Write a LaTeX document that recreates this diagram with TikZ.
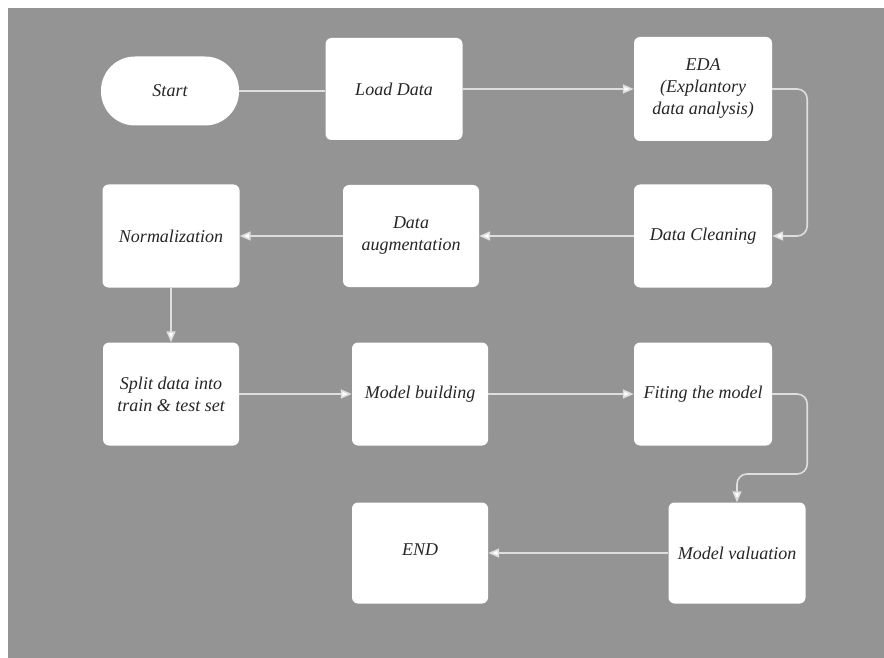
\documentclass[tikz,border=0pt]{standalone}
\usepackage{fontspec}
\setmainfont{Liberation Serif}
\usetikzlibrary{arrows.meta}
\definecolor{canvas}{RGB}{148,148,148}
\definecolor{wire}{RGB}{222,222,222}
\tikzset{
  stepbox/.style={rectangle, rounded corners=6pt, fill=white, draw=none,
    inner sep=0pt, align=center, text=black!85,
    font=\itshape\fontsize{18}{22}\selectfont},
  terminal/.style={stepbox, rounded corners=34pt},
  link/.style={draw=wire, line width=1.6pt},
  flow/.style={link, -{Triangle[length=11pt,width=9pt,fill=white]}},
}
\begin{document}
\begin{tikzpicture}[x=1pt,y=-1pt]
  \useasboundingbox (0,0) rectangle (884,658);
  \fill[white] (0,0) rectangle (884,658);
  \fill[canvas] (8,8) rectangle (884,658);

  % first row
  \node[terminal, minimum width=138pt, minimum height=69pt] (start) at (170,91) {Start};
  \node[stepbox, minimum width=137pt, minimum height=102pt] (load) at (394,89) {Load Data};
  \node[stepbox, minimum width=138pt, minimum height=104pt] (eda) at (703,89) {EDA\\(Explantory\\data analysis)};

  % second row
  \node[stepbox, minimum width=138pt, minimum height=103pt] (clean) at (703,236) {Data Cleaning};
  \node[stepbox, minimum width=136pt, minimum height=102pt] (aug) at (411,236) {Data\\augmentation};
  \node[stepbox, minimum width=137pt, minimum height=103pt] (norm) at (171,236) {Normalization};

  % third row
  \node[stepbox, minimum width=136pt, minimum height=103pt] (split) at (171,394) {Split data into\\train \& test set};
  \node[stepbox, minimum width=136pt, minimum height=103pt] (build) at (420,394) {Model building};
  \node[stepbox, minimum width=138pt, minimum height=103pt] (fit) at (703,394) {Fiting the model};

  % last row
  \node[stepbox, minimum width=137pt, minimum height=101pt] (val) at (737,553) {Model valuation};
  \node[stepbox, minimum width=136pt, minimum height=101pt] (end) at (420,553) {\raisebox{7pt}{END}};

  \coordinate (fitturn) at (737,474);

  % connectors
  \draw[link] (start.east) -- (start.east -| load.west);
  \draw[flow] (load.east) -- (eda.west);
  \draw[flow, rounded corners=10pt] (eda.east) -- ++(35,0) |- (clean.east);
  \draw[flow] (clean.west) -- (aug.east);
  \draw[flow] (aug.west) -- (norm.east);
  \draw[flow] (norm.south) -- (split.north);
  \draw[flow] (split.east) -- (build.west);
  \draw[flow] (build.east) -- (fit.west);
  \draw[flow, rounded corners=10pt] (fit.east) -- ++(35,0) |- (fitturn) -- (val.north);
  \draw[flow] (val.west) -- (end.east);
\end{tikzpicture}
\end{document}
